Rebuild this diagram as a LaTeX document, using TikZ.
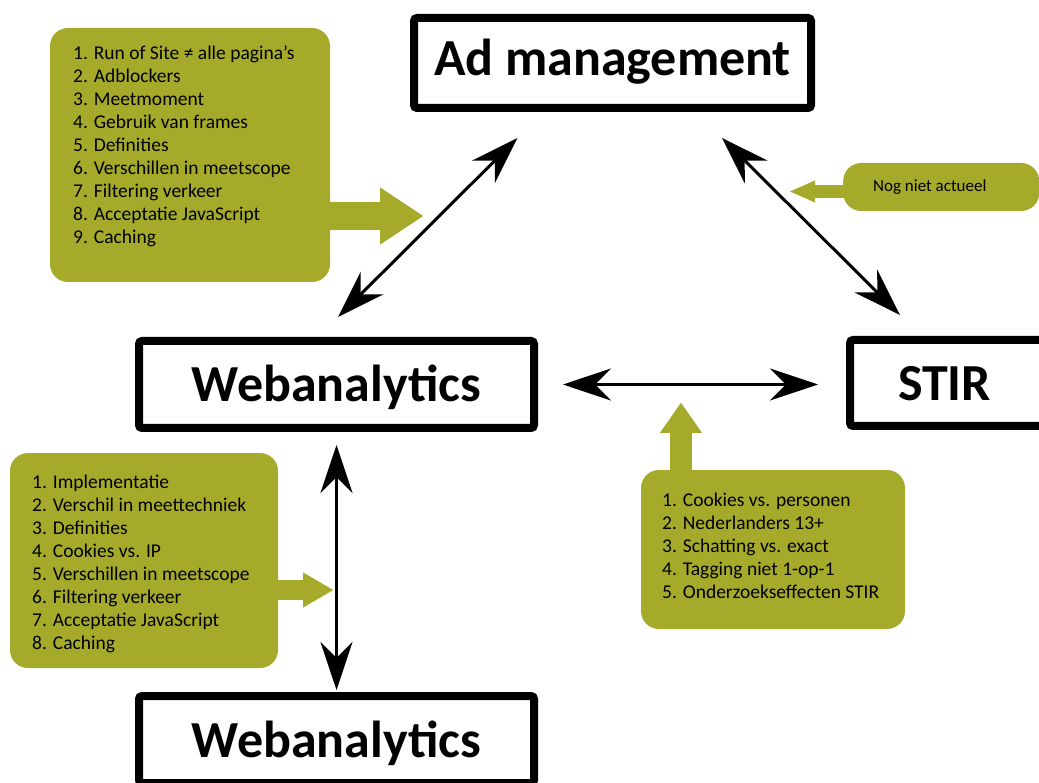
\documentclass[tikz,border=0pt]{standalone}
\usepackage{fontspec}
\setmainfont{Carlito}
\usetikzlibrary{arrows.meta}
\definecolor{mossgreen}{RGB}{165,170,42}

\begin{document}
\begin{tikzpicture}[x=1pt,y=-1pt,
  box/.style={draw,line width=8pt,rounded corners=3pt,inner sep=0pt,
    font=\fontsize{52}{60}\selectfont\bfseries,text height=40pt,text depth=5pt},
  greenbox/.style={fill=mossgreen,rounded corners=18pt,inner sep=0pt},
  listtext/.style={align=left,inner sep=0pt,font=\fontsize{19.5}{23}\selectfont},
  link/.style={line width=3pt,<->,>={Stealth[length=48pt,width=32pt,inset=16pt]}},
  callout/.style={draw=mossgreen}]
\clip (0,0) rectangle (1039,783);
\fill[white] (0,0) rectangle (1039,783);

% main boxes
\node[box,minimum width=397pt,minimum height=90pt,text height=36pt,text depth=10pt] (admgmt) at (612.5,63) {Ad management};
\node[box,minimum width=395pt,minimum height=87pt] (webtop) at (336.5,384.5) {Webanalytics};
\node[box,anchor=west,minimum height=86pt,inner xsep=48pt,text width=250pt,align=left] (stir) at (846,383) {STIR};
\node[box,minimum width=395pt,minimum height=87pt] (webbot) at (336.5,739.5) {Webanalytics};

% lists
\node[greenbox,minimum width=280pt,minimum height=254pt] (adbox) at (190,155) {};
\node[listtext,anchor=north west] (adlist) at (73,46) {1. Run of Site ≠ alle pagina’s\\
2. Adblockers\\
3. Meetmoment\\
4. Gebruik van frames\\
5. Definities\\
6. Verschillen in meetscope\\
7. Filtering verkeer\\
8. Acceptatie JavaScript\\
9. Caching};

\node[greenbox,minimum width=268pt,minimum height=215pt] (webbox) at (144,560.5) {};
\node[listtext,anchor=north west] (weblist) at (32,475) {1. Implementatie\\
2. Verschil in meettechniek\\
3. Definities\\
4. Cookies vs. IP\\
5. Verschillen in meetscope\\
6. Filtering verkeer\\
7. Acceptatie JavaScript\\
8. Caching};

\node[greenbox,minimum width=264pt,minimum height=159pt] (stirbox) at (773,549.5) {};
\node[listtext,anchor=north west] (stirlist) at (662,493) {1. Cookies vs. personen\\
2. Nederlanders 13+\\
3. Schatting vs. exact\\
4. Tagging niet 1-op-1\\
5. Onderzoekseffecten STIR};

\node[greenbox,anchor=west,minimum width=196pt,minimum height=48pt] (notebox) at (843,187) {};
\node[listtext,anchor=base west,font=\fontsize{17}{23}\selectfont] (notetext) at (873,192) {Nog niet actueel};

% green arrows
\draw[callout,line width=28pt,-{Triangle[length=43pt,width=57pt,line width=0pt]}] ([xshift=-1pt,yshift=-61pt]adbox.east) -- ++(94,0);
\draw[callout,line width=20pt,-{Triangle[length=30pt,width=35pt,line width=0pt]}] ([xshift=-1pt,yshift=-29.5pt]webbox.east) -- ++(56,0);
\draw[callout,line width=22pt,-{Triangle[length=30pt,width=42pt,line width=0pt]}] ([xshift=-92pt,yshift=-1pt]stirbox.north) -- ++(0,-68);
\draw[callout,line width=13pt,-{Triangle[length=25pt,width=22pt,line width=0pt]}] ([xshift=1pt,yshift=-4.5pt]notebox.west) -- ++(-54,0);

% links
\draw[link] ([xshift=-95pt,yshift=-26pt]admgmt.south) -- ([xshift=1.5pt,yshift=20pt]webtop.north);
\draw[link] ([xshift=109.5pt,yshift=-26pt]admgmt.south) -- ([xshift=54pt,yshift=21pt]stir.north west);
\draw[link] ([xshift=25pt]webtop.east) -- ([xshift=-28pt]stir.west |- webtop.east);
\draw[link] ([yshift=-13pt]webtop.south) -- ([yshift=2pt]webbot.north);
\end{tikzpicture}
\end{document}
